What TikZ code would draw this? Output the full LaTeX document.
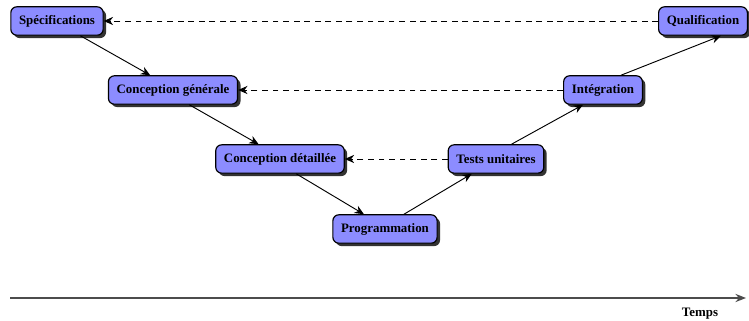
\documentclass[tikz,border=0pt]{standalone}
\usepackage{fontspec}
\setmainfont{Liberation Serif}
\usetikzlibrary{shadows,calc,arrows.meta}
\definecolor{boite}{RGB}{140,140,255}

\begin{document}
\begin{tikzpicture}[
    x=0.03cm, y=-0.03cm,
    etape/.style={rectangle, draw, line width=1pt, rounded corners=5pt, fill=boite, minimum height=0.85cm, inner xsep=7pt, font=\fontsize{11}{13}\selectfont\bfseries, drop shadow={shadow xshift=2.5pt, shadow yshift=-2.5pt, fill=black, opacity=0.8}},
    fleche/.style={-{Stealth[length=8pt,width=7pt]}, thick},
    retour/.style={fleche, dash pattern=on 5pt off 4pt},
    axe/.style={-{Stealth[length=9pt,width=7pt]}, line width=1.3pt, black!70}
]
\useasboundingbox (0,0) rectangle (749,321);

% Branche descendante
\node[etape] (spec) at (57,21) {Spécifications};
\node[etape] (cgen) at (173,90) {Conception générale};
\node[etape] (cdet) at (280,159) {Conception détaillée};
\node[etape] (prog) at (385,229) {Programmation};

% Branche montante
\node[etape] (tests) at (496,159) {Tests unitaires};
\node[etape] (integ) at (603,90) {Intégration};
\node[etape] (qualif) at (703,21) {Qualification};

% Fleches du cycle
\draw[fleche] ($(spec.south)!.5!(spec.south east)$) -- ($(cgen.north)!.35!(cgen.north west)$);
\draw[fleche] ($(cgen.south)!.25!(cgen.south east)$) -- ($(cdet.north)!.33!(cdet.north west)$);
\draw[fleche] ($(cdet.south)!.25!(cdet.south east)$) -- ($(prog.north)!.4!(prog.north west)$);
\draw[fleche] ($(prog.north)!.36!(prog.north east)$) -- ($(tests.south)!.5!(tests.south west)$);
\draw[fleche] ($(tests.north)!.32!(tests.north east)$) -- ($(integ.south)!.5!(integ.south west)$);
\draw[fleche] ($(integ.north)!.45!(integ.north east)$) -- ($(qualif.south)!.4!(qualif.south east)$);

% Fleches de validation (pointillees)
\draw[retour] (qualif.west) -- (spec.east);
\draw[retour] (integ.west) -- (cgen.east);
\draw[retour] (tests.west) -- (cdet.east);

% Axe du temps
\coordinate (debut) at (10,298);
\coordinate (fin) at (746,298);
\draw[axe] (debut) -- (fin);
\node[font=\fontsize{11}{13}\selectfont\bfseries] (temps) at (700,314) {Temps};

\end{tikzpicture}
\end{document}
